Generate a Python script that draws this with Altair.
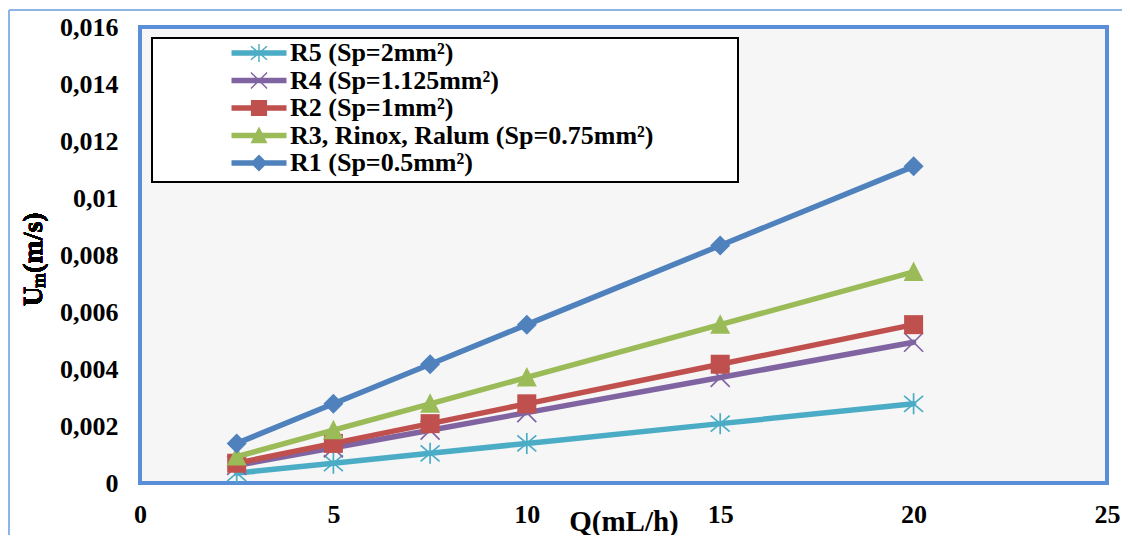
import altair as alt
import pandas as pd

# ---------------- data ----------------
q_values = [2.5, 5, 7.5, 10, 15, 20]
series_names = [
    "R5 (Sp=2mm²)",
    "R4 (Sp=1.125mm²)",
    "R2 (Sp=1mm²)",
    "R3, Rinox, Ralum (Sp=0.75mm²)",
    "R1 (Sp=0.5mm²)",
]
r5_values = [0.000347, 0.000694, 0.001042, 0.001389, 0.002083, 0.002778]
r4_values = [0.000617, 0.001235, 0.001852, 0.002469, 0.003704, 0.004938]
r2_values = [0.000694, 0.001389, 0.002083, 0.002778, 0.004167, 0.005556]
r3_values = [0.000926, 0.001852, 0.002778, 0.003704, 0.005556, 0.007407]
r1_values = [0.001389, 0.002778, 0.004167, 0.005556, 0.008333, 0.011111]
series_values = [r5_values, r4_values, r2_values, r3_values, r1_values]
series_colors = ["#4bacc6", "#8064a2", "#c0504d", "#9bbb59", "#4f81bd"]
x_ticks = [0, 5, 10, 15, 20, 25]
y_ticks = [0, 0.002, 0.004, 0.006, 0.008, 0.01, 0.012, 0.014, 0.016]

FONT = "Liberation Serif"

rows = []
for name, vals in zip(series_names, series_values):
    for q, v in zip(q_values, vals):
        rows.append({"series": name, "Q": q, "U": v})
df = pd.DataFrame(rows)


# ---------------- marker shapes (unit box -1..1) ----------------
def _orient(pts):
    a = 0.0
    for i in range(len(pts)):
        x1, y1 = pts[i]
        x2, y2 = pts[(i + 1) % len(pts)]
        a += x1 * y2 - x2 * y1
    return pts if a > 0 else list(reversed(pts))


def poly(pts, s=1.0):
    pts = _orient([(x * s, y * s) for x, y in pts])
    return "M" + "L".join(f"{x:.3f},{y:.3f}" for x, y in pts) + "Z"


def seg(x1, y1, x2, y2, w):
    dx, dy = x2 - x1, y2 - y1
    n = (dx * dx + dy * dy) ** 0.5
    px, py = -dy / n * w / 2, dx / n * w / 2
    return [(x1 + px, y1 + py), (x2 + px, y2 + py), (x2 - px, y2 - py), (x1 - px, y1 - py)]


def segs(lst, s=1.0):
    return "".join(poly(p, s) for p in lst)


W = 0.17
marker_polys = {
    "diamond": [[(0, -1), (1, 0), (0, 1), (-1, 0)]],
    "square": [[(-0.95, -0.95), (0.95, -0.95), (0.95, 0.95), (-0.95, 0.95)]],
    "triangle": [[(0, -1.05), (1.0, 0.9), (-1.0, 0.9)]],
    "x": [seg(-0.95, -0.95, 0.95, 0.95, W), seg(-0.95, 0.95, 0.95, -0.95, W)],
    "asterisk": [seg(-0.95, -0.8, 0.95, 0.8, W), seg(-0.95, 0.8, 0.95, -0.8, W),
                 seg(0, -1.05, 0, 1.05, W)],
}
series_markers = ["asterisk", "x", "square", "triangle", "diamond"]

chart_paths = [segs(marker_polys[m]) for m in series_markers]
bar = poly([(-2.75, -0.27), (2.75, -0.27), (2.75, 0.27), (-2.75, 0.27)])
legend_paths = [bar + segs(marker_polys[m], 0.85) for m in series_markers]

# ---------------- scales & axes ----------------
x_scale = alt.Scale(domain=[0, 25], nice=False, zero=False)
y_scale = alt.Scale(domain=[0, 0.016], nice=False)

x_axis = alt.Axis(
    values=x_ticks, title="Q(mL/h)", grid=False, ticks=False, tickSize=0, domain=False,
    labelFont=FONT, labelFontWeight="bold", labelFontSize=26, labelColor="black",
    labelPadding=18, labelFlush=False, labelOverlap=False,
    titleFont=FONT, titleFontWeight="bold", titleFontSize=29, titleColor="black",
    titleBaseline="alphabetic", titleY=47,
)
y_axis = alt.Axis(
    values=y_ticks, title=None, grid=False, ticks=False, tickSize=0, domain=False,
    labelFont=FONT, labelFontWeight="bold", labelFontSize=26, labelColor="black",
    labelPadding=22, labelFlush=False, labelOverlap=False,
    labelExpr="replace(format(datum.value, '~g'), '.', ',')",
)
X = alt.X("Q:Q", scale=x_scale, axis=x_axis)
Y = alt.Y("U:Q", scale=y_scale, axis=y_axis)

base = alt.Chart(df)
layers = []

# outer chart frame
frame = alt.Chart(df).mark_rule(color="#8db4e2", strokeWidth=2)
layers.append(frame.encode(x=alt.value(-131), y=alt.value(-17), y2=alt.value(600)))
layers.append(frame.encode(x=alt.value(-131), x2=alt.value(1100), y=alt.value(-17)))

# legend box
layers.append(
    alt.Chart(df).mark_rect(fill="white", stroke="black", strokeWidth=2).encode(
        x=alt.value(12), x2=alt.value(598), y=alt.value(11), y2=alt.value(155)
    )
)

for name, color, path in zip(series_names, series_colors, chart_paths):
    sub = base.transform_filter(alt.datum.series == name)
    layers.append(sub.mark_line(color=color, strokeWidth=5.5, strokeJoin="round",
                                strokeCap="round").encode(x=X, y=Y))
    layers.append(sub.mark_point(shape=path, filled=True, size=400, opacity=1,
                                 color=color, strokeWidth=0).encode(x=X, y=Y))

legend = alt.Legend(
    orient="none", legendX=106, legendY=13, title=None, padding=0,
    labelFont=FONT, labelFontWeight="bold", labelFontSize=26, labelColor="black",
    labelOffset=18, symbolSize=400, symbolStrokeWidth=0, symbolOffset=0,
    rowPadding=1.5, labelLimit=700,
)
layers.append(
    base.transform_filter("false").mark_point(filled=True, opacity=1).encode(
        x=X, y=Y,
        color=alt.Color("series:N", scale=alt.Scale(domain=series_names, range=series_colors),
                        legend=legend, sort=series_names),
        shape=alt.Shape("series:N", scale=alt.Scale(domain=series_names, range=legend_paths),
                        legend=legend, sort=series_names),
    )
)

# y title: U_m(m/s)
tb = alt.Chart(df)
txt = dict(font=FONT, fontWeight="bold", color="black", angle=270, align="left",
           baseline="alphabetic")
layers.append(tb.mark_text(fontSize=27, text="U", **txt).encode(
    x=alt.value(-98), y=alt.value(279)))
layers.append(tb.mark_text(fontSize=18, text="m", **txt).encode(
    x=alt.value(-95), y=alt.value(261)))
layers.append(tb.mark_text(fontSize=28, text="(m/s)", **txt).encode(
    x=alt.value(-98), y=alt.value(246)))

chart = alt.layer(*layers).properties(
    width=967, height=456,
    autosize=alt.AutoSizeParams(type="none"),
    padding={"left": 132, "top": 19, "right": 15, "bottom": 52},
    background="white",
).configure_view(
    fill="#f6f6f6", stroke="#5a8ed6", strokeWidth=4,
)

chart.save("out.html", embed_options={"renderer": "svg", "actions": False})
